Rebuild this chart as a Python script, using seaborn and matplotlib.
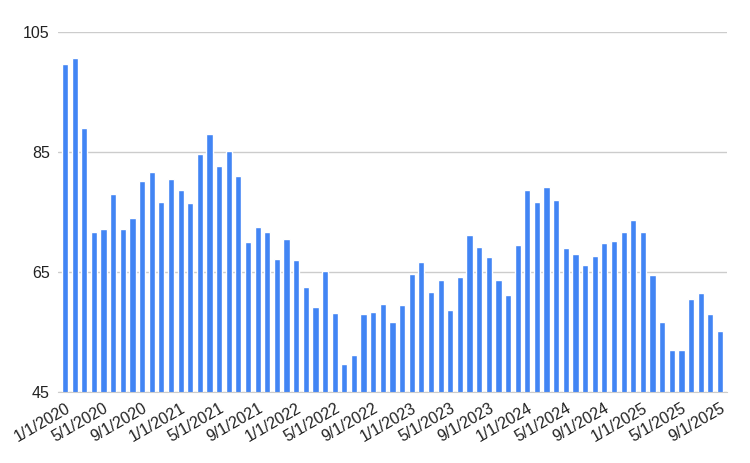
import numpy as np
import pandas as pd
import seaborn as sns
import matplotlib.pyplot as plt

# monthly values, 1/1/2020 .. 9/1/2025
values = [
    99.7, 100.8, 89.0, 71.7, 72.2, 78.0, 72.3, 74.0, 80.3, 81.7, 76.8, 80.6,
    78.8, 76.6, 84.8, 88.1, 82.8, 85.3, 81.1, 70.1, 72.6, 71.7, 67.3, 70.5,
    67.1, 62.6, 59.3, 65.2, 58.3, 49.8, 51.3, 58.1, 58.4, 59.8, 56.7, 59.6,
    64.8, 66.8, 61.8, 63.7, 58.8, 64.3, 71.3, 69.3, 67.6, 63.7, 61.2, 69.6,
    78.8, 76.8, 79.3, 77.1, 69.0, 68.1, 66.3, 67.8, 69.9, 70.3, 71.7, 73.8,
    71.7, 64.6, 56.8, 52.1, 52.1, 60.6, 61.6, 58.1, 55.3,
]
months = pd.date_range("2020-01-01", periods=len(values), freq="MS")
labels = [f"{d.month}/{d.day}/{d.year}" for d in months]
yticks = [45, 65, 85, 105]

df = pd.DataFrame({"date": labels, "value": values})

sns.set_style("white")
plt.rcParams['font.family'] = ['Liberation Sans', 'DejaVu Sans']

fig = plt.figure(figsize=(7.5, 4.63), dpi=100)
ax = fig.add_axes([0.0773, 0.1527, 0.892, 0.7775])

sns.barplot(data=df, x="date", y="value", color="#4285f4", saturation=1,
            width=0.64, ax=ax)

ax.set_ylim(45, 105)
ax.set_xlim(-0.73, len(values) - 1 + 0.73)
ax.set_yticks(yticks)
ax.set_yticklabels([str(t) for t in yticks], fontsize=11.5, color="#222222")
ax.yaxis.grid(True, color="#cccccc", linewidth=1)
ax.set_axisbelow(True)

pos = np.arange(0, len(values), 4)
ax.set_xticks(pos)
ax.set_xticklabels([labels[i] for i in pos], rotation=30, ha="right",
                   rotation_mode="anchor", fontsize=11.5, color="#222222")
ax.tick_params(axis="x", length=0, pad=6)
ax.tick_params(axis="y", length=0, pad=6)

for s in ["top", "right", "left"]:
    ax.spines[s].set_visible(False)
ax.spines["bottom"].set_color("#cccccc")
ax.set_xlabel("")
ax.set_ylabel("")

fig.savefig("out.png", dpi=100)
